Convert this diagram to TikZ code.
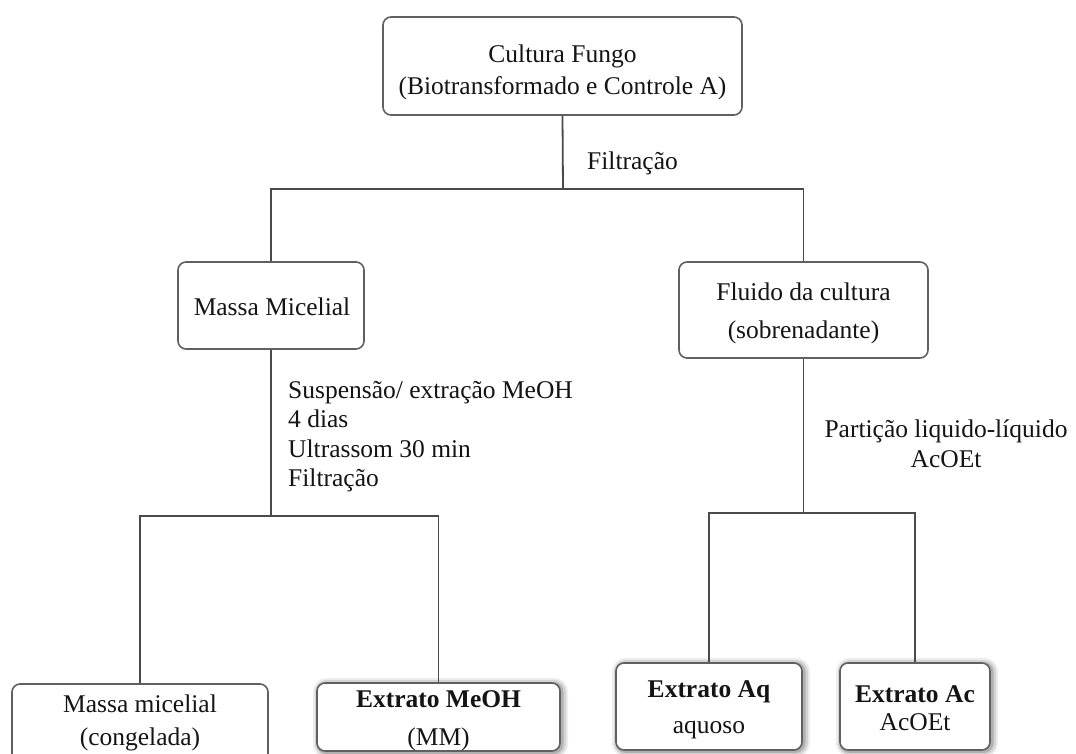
\documentclass[tikz,border=0pt]{standalone}
\usepackage{fontspec}
\setmainfont{Liberation Serif}
\definecolor{boxgray}{HTML}{606060}
\definecolor{linegray}{HTML}{4A4A4A}
\definecolor{txt}{HTML}{141414}
\begin{document}
\begin{tikzpicture}[x=1pt,y=-1pt,
  box/.style={draw=boxgray, line width=1.6pt, rounded corners=8pt, fill=white, inner sep=0pt},
  sbox/.style={box,
    preaction={draw=black, opacity=0.07, line width=12pt, transform canvas={xshift=2pt,yshift=-1pt}},
    preaction={draw=black, opacity=0.10, line width=8pt, transform canvas={xshift=2pt,yshift=-1pt}},
    preaction={draw=black, opacity=0.16, line width=4pt, transform canvas={xshift=1.5pt,yshift=-1pt}}},
  lbl/.style={anchor=base, inner sep=0pt, text=txt, font=\fontsize{25.5}{30}\selectfont},
  lblw/.style={lbl, anchor=base west},
  blbl/.style={lbl, font=\fontsize{25.5}{30}\selectfont\bfseries},
  conn/.style={draw=linegray, line width=1.8pt}]
\clip (0,0) rectangle (1076,754);
\fill[white] (0,0) rectangle (1076,754);

% boxes
\node[box, minimum width=359pt, minimum height=98pt] (top) at (562.5,66) {};
\node[box, minimum width=186pt, minimum height=87pt] (mm) at (271,305.5) {};
\node[box, minimum width=249pt, minimum height=96pt] (fl) at (803.5,310) {};
\node[box, minimum width=256pt, minimum height=100pt] (mmc) at (140,734) {};
\node[sbox, minimum width=243pt, minimum height=68pt] (meoh) at (438.5,717) {};
\node[sbox, minimum width=186pt, minimum height=87pt] (aq) at (709,706.5) {};
\node[sbox, minimum width=150pt, minimum height=87pt] (ac) at (915,706.5) {};

% junctions
\coordinate (j1) at (563,189);
\coordinate (j2) at (271,516);
\coordinate (j3) at (803.5,513);

% connectors
\draw[conn] (top.south) -- (j1);
\draw[conn] (mm.north) |- (j1) -| (fl.north);
\draw[conn] (mm.south) -- (j2);
\draw[conn] (mmc.north) |- (j2) -| (meoh.north);
\draw[conn] (fl.south) -- (j3);
\draw[conn] (aq.north) |- (j3) -| (ac.north);

% texts
\node[lbl] (t1) at (562.5,63) {Cultura Fungo};
\node[lbl] (t2) at (562.5,95) {(Biotransformado e Controle A)};
\node[lblw] (f1) at (587,170) {Filtração};
\node[lbl] (mmt) at (272,315) {Massa Micelial};
\node[lbl] (fl1) at (803.5,300) {Fluido da cultura};
\node[lbl] (fl2) at (803.5,338) {(sobrenadante)};
\node[lblw] (s1) at (288,398) {Suspensão/ extração MeOH};
\node[lblw] (s2) at (288,427.5) {4 dias};
\node[lblw] (s3) at (288,457) {Ultrassom 30 min};
\node[lblw] (s4) at (288,486) {Filtração};
\node[lbl] (p1) at (946,437) {Partição liquido-líquido};
\node[lbl] (p2) at (946,467) {AcOEt};
\node[lbl] (c1) at (140,712) {Massa micelial};
\node[lbl] (c2) at (140,745) {(congelada)};
\node[blbl] (m1) at (438.5,707) {Extrato MeOH};
\node[lbl] (m2) at (438.5,745) {(MM)};
\node[blbl] (a1) at (709,697) {Extrato Aq};
\node[lbl] (a2) at (709,733) {aquoso};
\node[blbl] (e1) at (915,702) {Extrato Ac};
\node[lbl] (e2) at (915,730) {AcOEt};
\end{tikzpicture}
\end{document}
